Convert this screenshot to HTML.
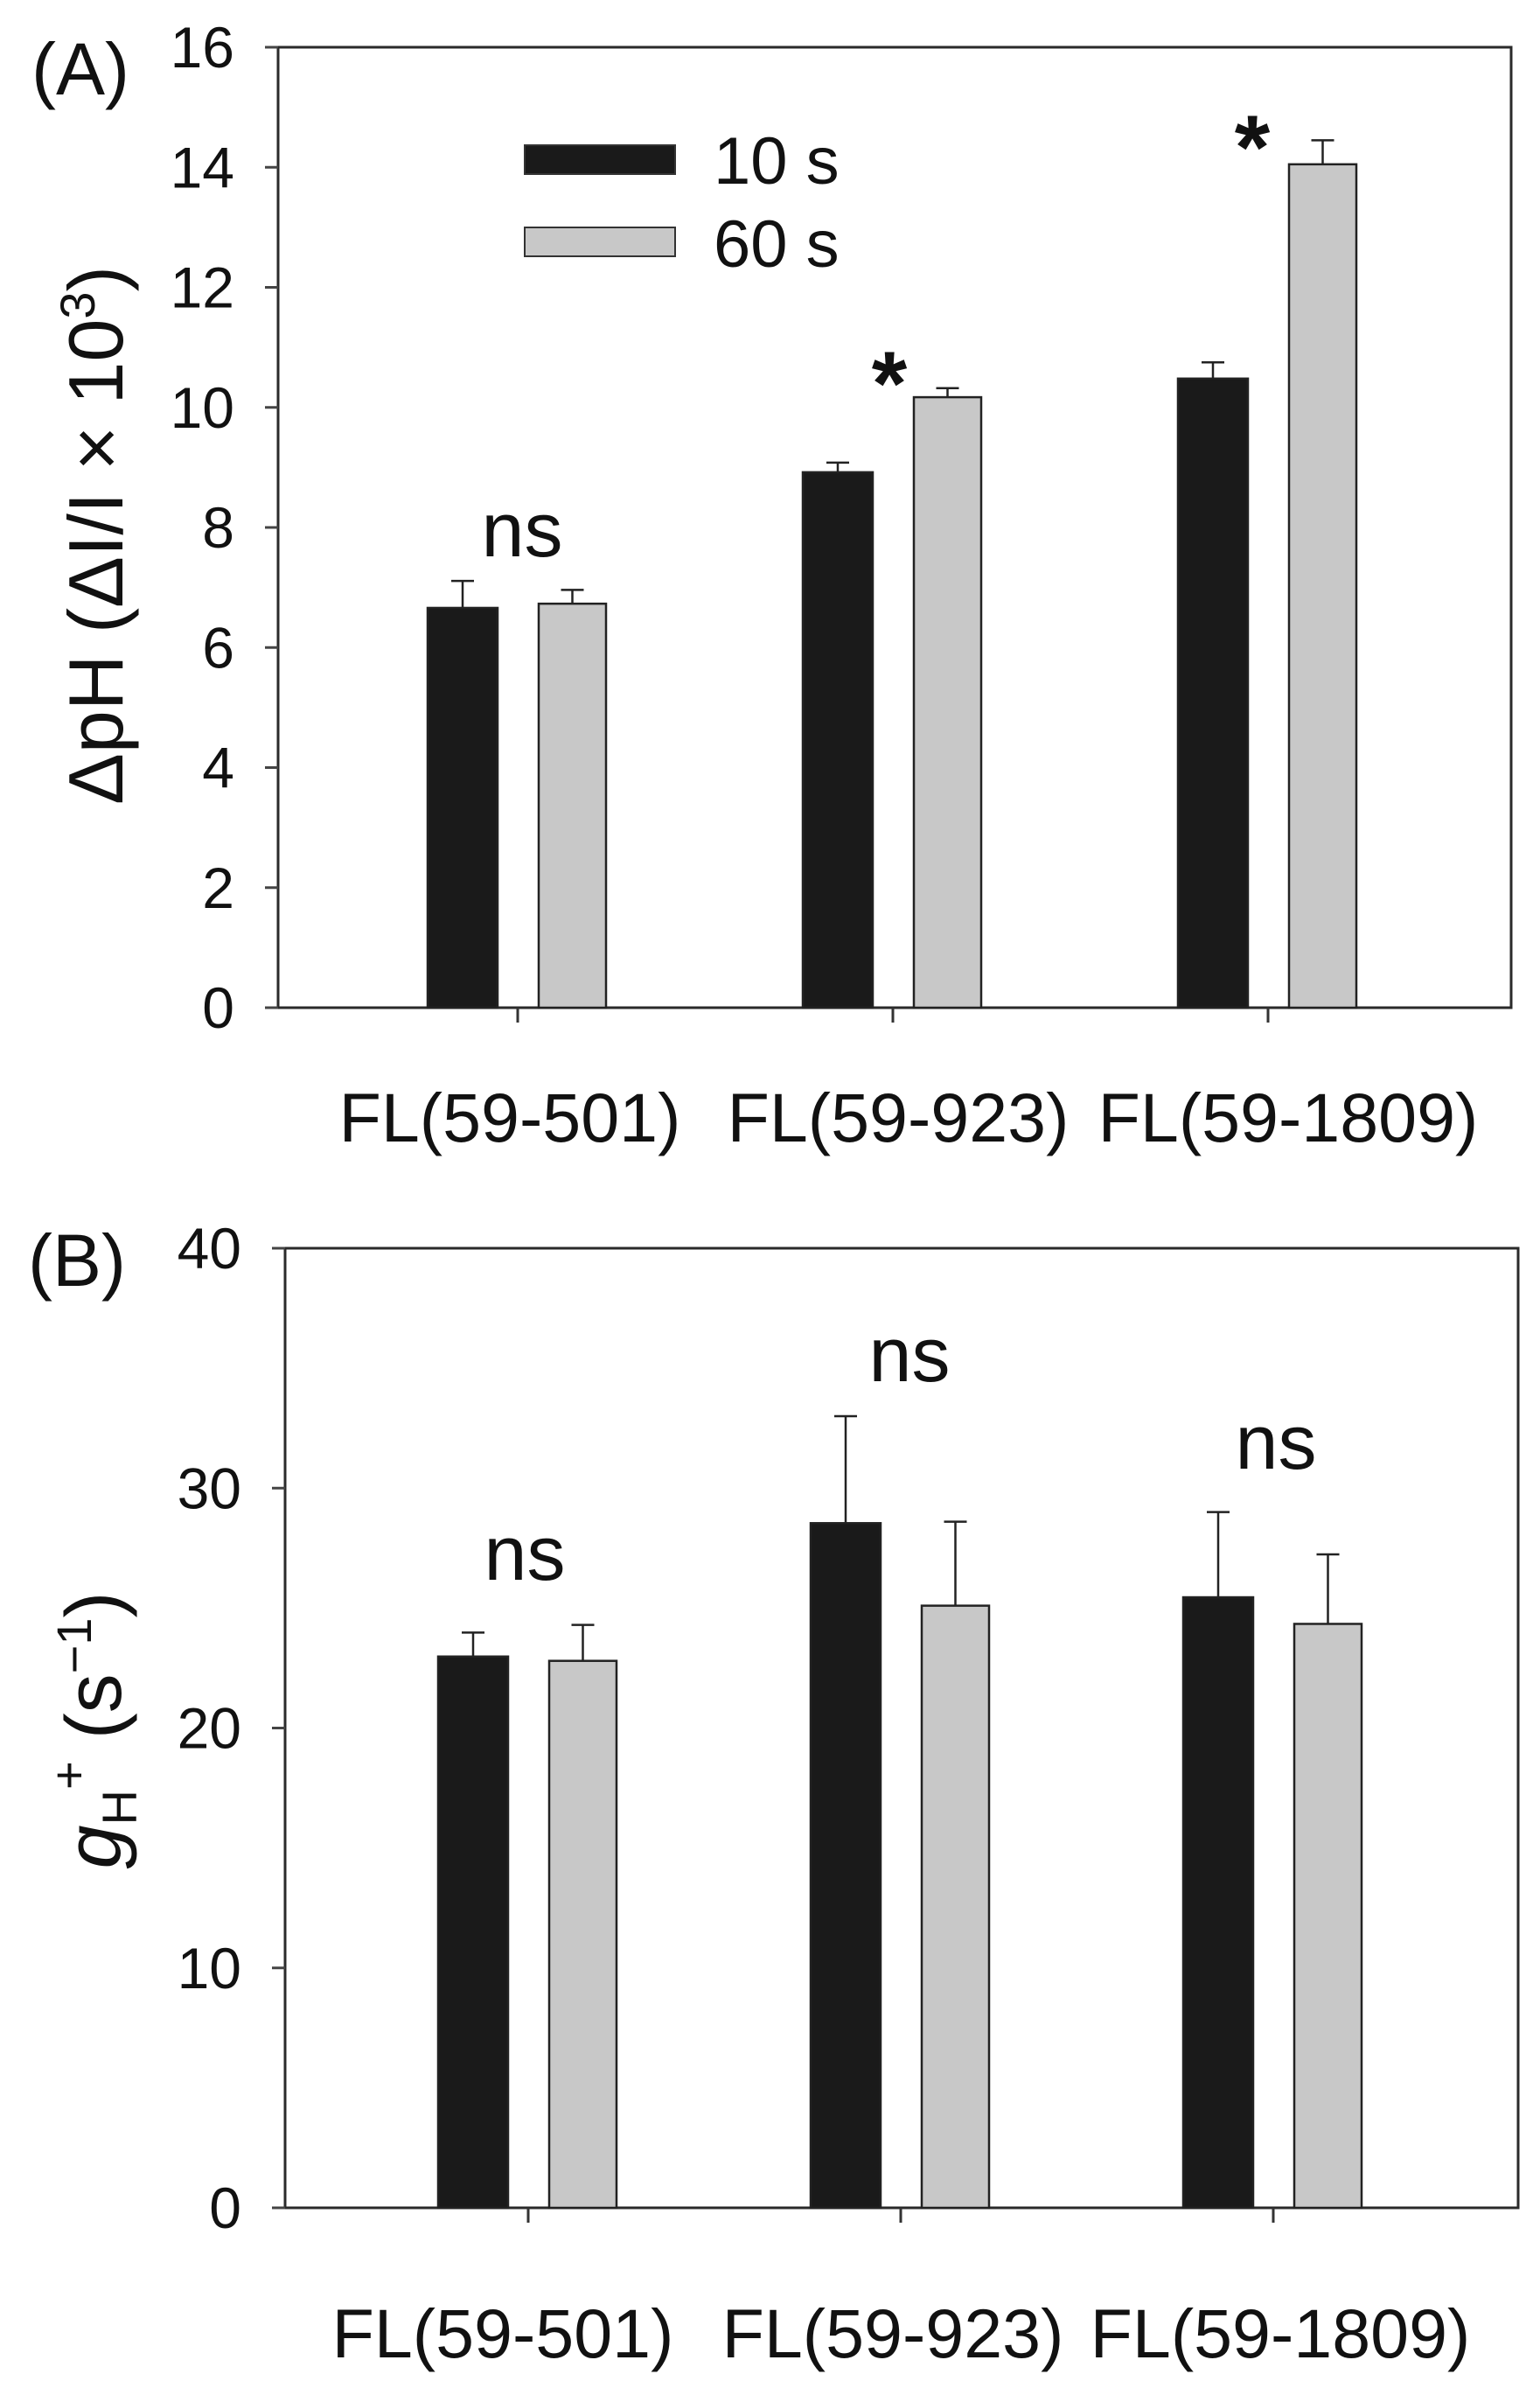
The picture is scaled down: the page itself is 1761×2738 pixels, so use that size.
<!DOCTYPE html>
<html><head><meta charset="utf-8"><style>
html,body{margin:0;padding:0;background:#fff;}
svg{display:block;font-family:"Liberation Sans",Arial,sans-serif;}
</style></head><body>
<svg id="fig" width="1761" height="2738" viewBox="0 0 1761 2738" xmlns="http://www.w3.org/2000/svg">
<rect width="1761" height="2738" fill="#fff"/>
</svg>
<script>
const categories = ["FL(59-501)", "FL(59-923)", "FL(59-1809)"];
const seriesNames = ["10 s", "60 s"];
const aTen = [6.66, 8.92, 10.48];
const aTenErr = [0.45, 0.16, 0.27];
const aSixty = [6.73, 10.17, 14.05];
const aSixtyErr = [0.23, 0.15, 0.4];
const aTicks = [0, 2, 4, 6, 8, 10, 12, 14, 16];
const aMarks = ["ns", "*", "*"];
const bTen = [22.98, 28.54, 25.45];
const bTenErr = [1.0, 4.46, 3.55];
const bSixty = [22.8, 25.1, 24.34];
const bSixtyErr = [1.5, 3.5, 2.9];
const bTicks = [0, 10, 20, 30, 40];
const bMarks = ["ns", "ns", "ns"];

const NS = "http://www.w3.org/2000/svg";
const svg = document.getElementById("fig");
function el(tag, attrs, parent, text) {
  const e = document.createElementNS(NS, tag);
  for (const k in attrs) e.setAttribute(k, attrs[k]);
  if (text !== undefined) e.textContent = text;
  (parent || svg).appendChild(e);
  return e;
}

function panel(cfg) {
  const g = el("g", {});
  
  
  const {left, right, top, bottom, ymax} = cfg;
  const y = v => bottom - v / ymax * (bottom - top);
  const x = i => cfg.ticksX[i];
  const frame = el("rect", {x: left, y: top, width: right - left, height: bottom - top, fill: "none", stroke: "#2a2a2a", "stroke-width": 3}, g);
  
  
  cfg.ticks.forEach(t => {
    const tk = el("line", {x1: left - 15, x2: left, y1: y(t), y2: y(t), stroke: "#444", "stroke-width": 3}, g);
    
    
    const lb = el("text", {x: left - 50, y: y(t) + 23, "text-anchor": "end", "font-size": 66, fill: "#111"}, g, String(t));
    
    
  });
  categories.forEach((c, i) => {
    const tk = el("line", {x1: x(i), x2: x(i), y1: bottom, y2: bottom + 17, stroke: "#333", "stroke-width": 3}, g);
    
    
    const lb = el("text", {x: cfg.labelX[i], y: cfg.labelY, "text-anchor": "middle", "font-size": 79, fill: "#111"}, g, c);
    
    
  });
  const series = [[cfg.ten, cfg.tenErr, "#1a1a1a", -103, -23], [cfg.sixty, cfg.sixtyErr, "#c8c8c8", 24, 101]];
  series.forEach((s, si) => {
    s[0].forEach((v, i) => {
      const x0 = x(i) + s[3], x1 = x(i) + s[4], cx = (x0 + x1) / 2;
      const top2 = y(v + s[1][i]);
      const eb = el("line", {x1: cx, x2: cx, y1: y(v), y2: top2, stroke: "#222", "stroke-width": 2.5}, g);
      
      
      const cap = el("line", {x1: cx - 13, x2: cx + 13, y1: top2, y2: top2, stroke: "#222", "stroke-width": 2.5}, g);
      
      
      const b = el("rect", {x: x0, y: y(v), width: x1 - x0, height: bottom - y(v), fill: s[2], stroke: "#222", "stroke-width": 2.5}, g);
      
      
    });
  });
  cfg.marks.forEach((m, i) => {
    const p = cfg.markPos[i];
    const t = el("text", {x: p[0], y: p[1], "text-anchor": "middle", "font-size": m === "*" ? 104 : 88, "font-weight": m === "*" ? "bold" : "normal", fill: "#111"}, g, m);
    
    
  });
  return {g, y};
}

const A = panel({name: "panel-a", left: 318, right: 1728, top: 54, bottom: 1152, ymax: 16,
  ticksX: [592, 1021, 1450], labelX: [583, 1027, 1473], labelY: 1305,
  ticks: aTicks, ten: aTen, tenErr: aTenErr, sixty: aSixty, sixtyErr: aSixtyErr, marks: aMarks,
  markPos: [[597, 636], [1017, 474], [1432, 204]]});
const B = panel({name: "panel-b", left: 326, right: 1736, top: 1427, bottom: 2524, ymax: 40,
  ticksX: [604, 1030, 1456], labelX: [575, 1021, 1464], labelY: 2695,
  ticks: bTicks, ten: bTen, tenErr: bTenErr, sixty: bSixty, sixtyErr: bSixtyErr, marks: bMarks,
  markPos: [[600, 1806], [1040, 1579], [1459, 1679]]});

let t = el("text", {x: 36, y: 108, "font-size": 84, fill: "#111"}, A.g, "(A)");


t = el("text", {x: 32, y: 1470, "font-size": 84, fill: "#111"}, B.g, "(B)");



const leg = el("g", {});


[["#1a1a1a", 166, 210], ["#c8c8c8", 260, 305]].forEach((l, i) => {
  const r = el("rect", {x: 600, y: l[1], width: 172, height: 33, fill: l[0], stroke: "#333", "stroke-width": 2}, leg);
  
  
  const tx = el("text", {x: 816, y: l[2], "font-size": 76, fill: "#111"}, leg, seriesNames[i]);
  
  
});

t = el("text", {x: 0, y: 0, "font-size": 88, fill: "#111", "text-anchor": "middle", transform: "translate(140,612) rotate(-90)"}, A.g);


t.innerHTML = 'ΔpH (ΔI/I × 10<tspan dy="-32" font-size="56">3</tspan><tspan dy="32">)</tspan>';
t = el("text", {x: 0, y: 0, "font-size": 90, fill: "#111", "text-anchor": "middle", transform: "translate(138,1978) rotate(-90)"}, B.g);


t.innerHTML = '<tspan font-style="italic">g</tspan><tspan dy="18" font-size="56">H</tspan><tspan dy="-58" font-size="56">+</tspan><tspan dy="40"> (s</tspan><tspan dy="-34" font-size="56">−1</tspan><tspan dy="34">)</tspan>';
</script>
</body></html>
